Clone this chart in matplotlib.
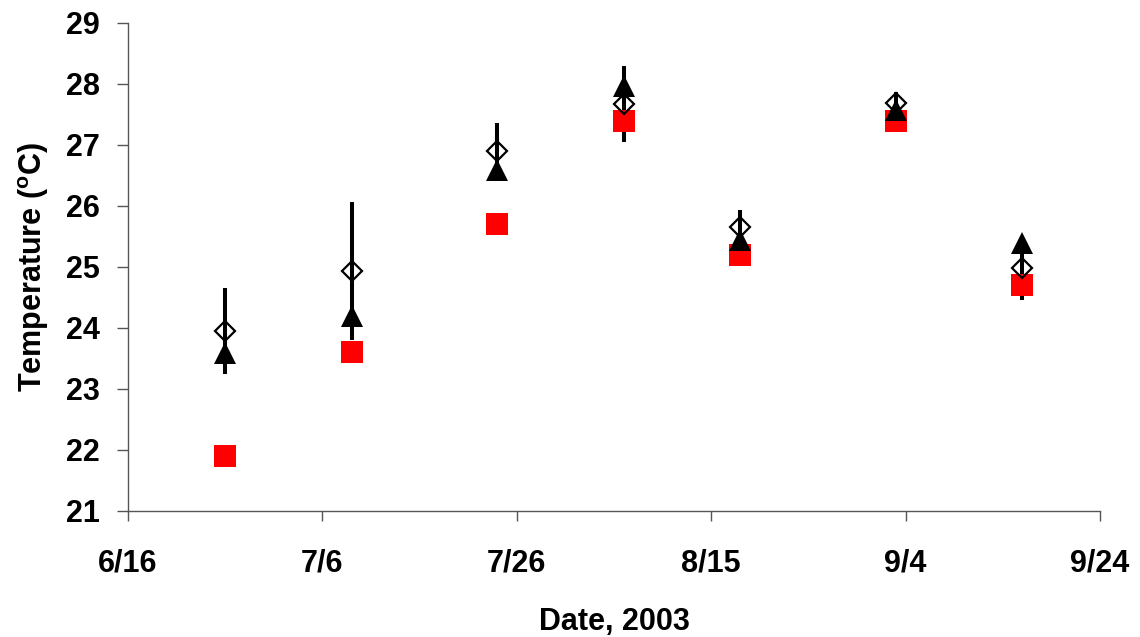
import datetime as dt
import matplotlib
matplotlib.use('Agg')
import matplotlib.pyplot as plt

# sampling dates (2003) and temperatures
dates = ['2003-06-26', '2003-07-09', '2003-07-24', '2003-08-06',
         '2003-08-18', '2003-09-03', '2003-09-16']
red_squares = [21.9, 23.6, 25.7, 27.4, 25.2, 27.4, 24.7]
open_diamonds = [23.95, 24.93, 26.90, 27.67, 25.65, 27.69, 24.98]
diamond_err = [0.70, 1.13, 0.46, 0.62, 0.28, 0.18, 0.52]
black_triangles = [23.59, 24.19, 26.59, 27.97, 25.44, 27.58, 25.39]

tick_dates = ['2003-06-16', '2003-07-06', '2003-07-26', '2003-08-15',
              '2003-09-04', '2003-09-24']
tick_labels = ['6/16', '7/6', '7/26', '8/15', '9/4', '9/24']
y_ticks = [21, 22, 23, 24, 25, 26, 27, 28, 29]

plt.rcParams['font.family'] = ['Liberation Sans', 'DejaVu Sans']
plt.rcParams['font.weight'] = 'bold'
plt.rcParams['mathtext.fontset'] = 'custom'
plt.rcParams['mathtext.rm'] = 'Liberation Sans:bold'
plt.rcParams['mathtext.it'] = 'Liberation Sans:bold'
plt.rcParams['mathtext.bf'] = 'Liberation Sans:bold'


def to_date(s):
    return dt.datetime.strptime(s, '%Y-%m-%d')


x = [to_date(d) for d in dates]
xt = [to_date(d) for d in tick_dates]

fig = plt.figure(figsize=(11.4, 6.37), dpi=100)
ax = fig.add_axes([0.1123, 0.1983, 0.8526, 0.7656])

ax.errorbar(x, open_diamonds, yerr=diamond_err, fmt='none', ecolor='black',
            elinewidth=2.9, capsize=0, zorder=1)
ax.plot(x, red_squares, linestyle='none', marker='s', markersize=15.8,
        color='#ff0000', markeredgewidth=0, zorder=2)
ax.plot(x, open_diamonds, linestyle='none', marker='D', markersize=10.5,
        markerfacecolor='none', markeredgecolor='black',
        markeredgewidth=1.6, zorder=3)
ax.plot(x, black_triangles, linestyle='none', marker='^', markersize=15.8,
        color='black', markeredgewidth=0, zorder=4)

ax.set_xlim(xt[0], xt[-1])
ax.set_ylim(21, 29)
ax.set_xticks(xt)
ax.set_xticklabels(tick_labels)
ax.set_yticks(y_ticks)

for side in ['top', 'right']:
    ax.spines[side].set_visible(False)
for side in ['left', 'bottom']:
    ax.spines[side].set_color('#555555')
    ax.spines[side].set_linewidth(1)

ax.tick_params(axis='x', direction='out', length=7.5, width=1, color='#555555',
               labelsize=22, pad=20)
ax.tick_params(axis='y', direction='out', length=8, width=1, color='#555555',
               labelsize=22, pad=12)

ax.set_xlabel('Date, 2003', fontsize=22, fontweight='bold', labelpad=20)
ax.set_ylabel('Temperature ($^{\\mathrm{o}}$C)', fontsize=22,
              fontweight='bold', labelpad=11)

fig.savefig('out.png', dpi=100)
